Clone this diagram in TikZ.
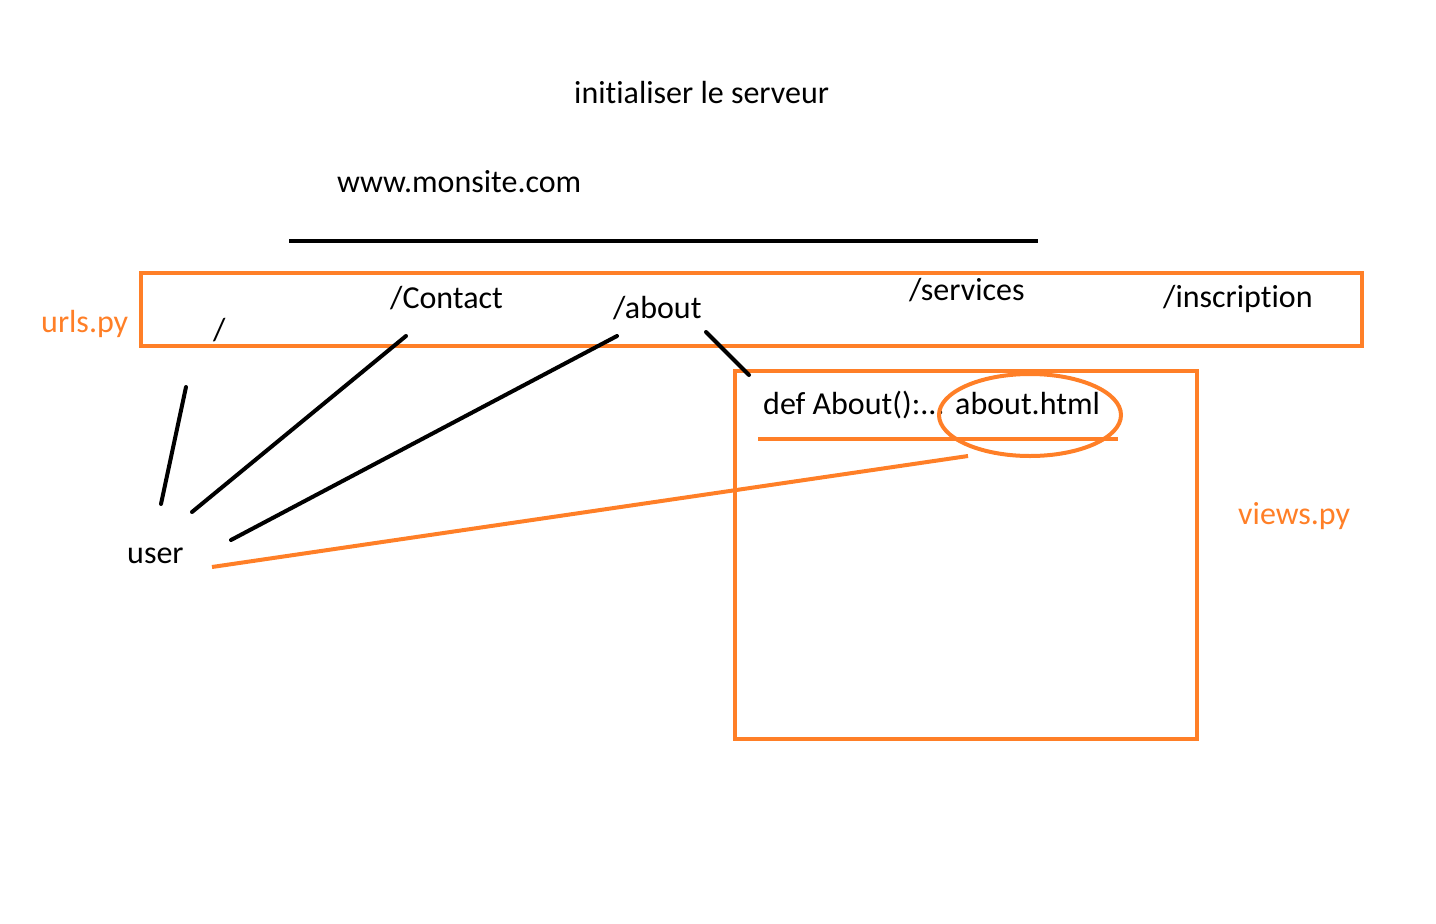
\documentclass[tikz,border=0pt]{standalone}
\usepackage{fontspec}
\setmainfont{Carlito}[Ligatures={NoCommon}]
\usepackage{xcolor}
\usetikzlibrary{positioning,calc}
\definecolor{paintorange}{HTML}{FF7F27}
\tikzset{
  lbl/.style={anchor=base west,inner sep=0pt,font=\fontsize{32}{38}\selectfont},
  olbl/.style={lbl,text=paintorange},
  stroke/.style={line width=4pt,line cap=round},
  ostroke/.style={line width=4pt,draw=paintorange}
}
\begin{document}
\begin{tikzpicture}[x=1pt,y=-1pt]
        \useasboundingbox (0,0) rectangle (1436,924);
        % draw titles
        \node[lbl] (title) at (574,103) {initialiser le serveur};
        \node[lbl] (site) at (337,192) {www.monsite.com};
        \draw[stroke,line cap=butt] (289,241) -- (1038,241);
        % draw urls box
        \draw[ostroke] (141,273) rectangle (1362,346);
        \node[olbl] (urls) at (41,332) {urls.py};
        \node[lbl] (root) at (213,340) {/};
        \node[lbl] (contact) at (390,308) {/Contact};
        \node[lbl] (about) at (613,318) {/about};
        \node[lbl] (services) at (909,300) {/services};
        \node[lbl] (inscription) at (1163,307) {/inscription};
        % draw views box
        \draw[ostroke] (735,371) rectangle (1197,739);
        \node[olbl] (views) at (1238,524) {views.py};
        \node[lbl] (def) at (763,414) {def About():...};
        \node[lbl] (html) at (955,414) {about.html};
        \draw[ostroke] (758,439) -- (1118,439);
        \draw[ostroke] (1030,415) ellipse [x radius=91,y radius=41];
        % draw user
        \node[lbl] (user) at (127,563) {user};
        \coordinate (u1) at (161,504);
        \coordinate (u2) at (192,512);
        \coordinate (u3) at (231,540);
        \coordinate (u4) at (212,567);
        \coordinate (r1) at (186,387);
        \coordinate (c1) at (406,336);
        \coordinate (a1) at (617,336);
        \coordinate (a2) at (706,332);
        \coordinate (d1) at (749,375);
        \coordinate (h1) at (968,456);
        % draw links
        \draw[stroke] (u1) -- (r1);
        \draw[stroke] (u2) -- (c1);
        \draw[stroke] (u3) -- (a1);
        \draw[stroke] (a2) -- (d1);
        \draw[ostroke] (u4) -- (h1);
\end{tikzpicture}
\end{document}
